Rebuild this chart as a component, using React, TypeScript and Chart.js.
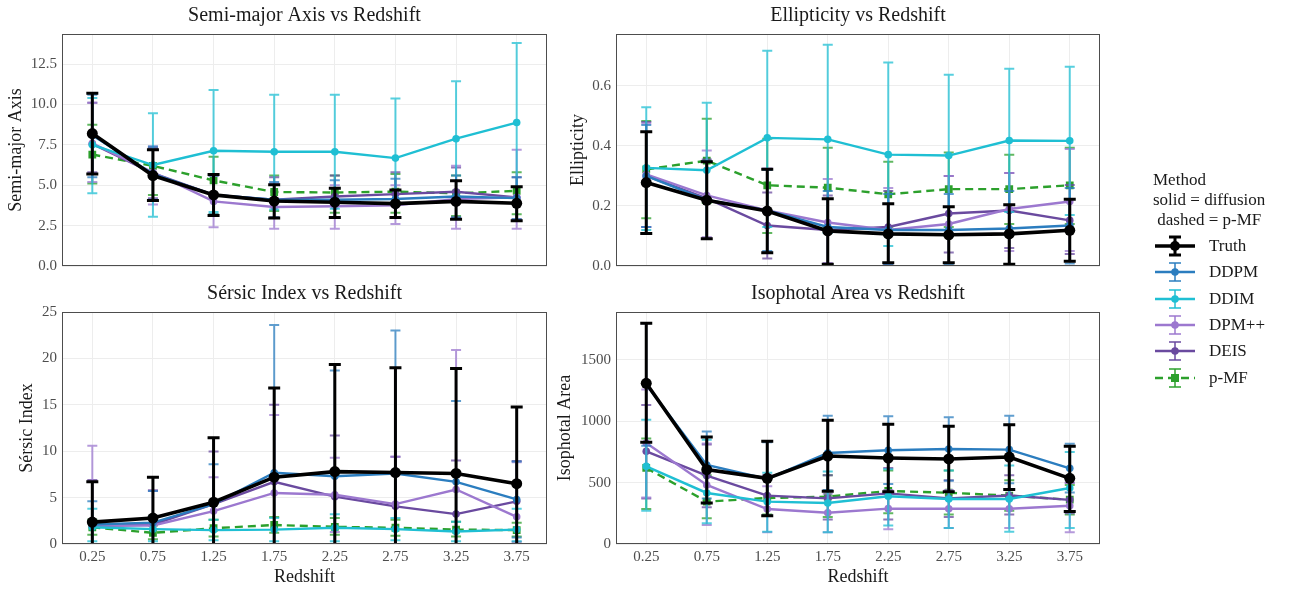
import React, { useEffect, useRef } from 'react';
import { Chart, registerables } from 'chart.js';

Chart.register(...registerables);
Chart.defaults.font.family = "'Liberation Serif', 'Times New Roman', serif";

// ---------------- data ----------------
const redshifts = ['0.25', '0.75', '1.25', '1.75', '2.25', '2.75', '3.25', '3.75'];
const methods = ['Truth', 'DDPM', 'DDIM', 'DPM++', 'DEIS', 'p-MF'];
const methodColors = ['#000000', '#2b7dbf', '#1fbfd3', '#9c78cf', '#6a4a9f', '#2ca02c'];

// y tick values per panel
const smaTicks = [0, 2.5, 5, 7.5, 10, 12.5];
const ellTicks = [0, 0.2, 0.4, 0.6];
const serTicks = [0, 5, 10, 15, 20, 25];
const isoTicks = [0, 500, 1000, 1500];

// each entry: [mean, lower, upper]
const smaTruth = [[8.2, 5.7, 10.7], [5.6, 4.05, 7.2], [4.4, 3.13, 5.67], [4.02, 2.97, 5.03], [3.95, 3.0, 4.82], [3.86, 3.0, 4.7], [4.0, 2.9, 5.28], [3.88, 2.8, 4.9]];
const smaDDPM = [[8.1, 5.5, 10.6], [5.7, 4.1, 7.4], [4.4, 3.2, 5.6], [4.1, 3.0, 5.2], [4.1, 3.0, 5.3], [4.15, 3.0, 5.4], [4.3, 3.0, 5.6], [4.2, 2.9, 5.5]];
const smaDDIM = [[7.5, 4.5, 10.4], [6.25, 3.05, 9.46], [7.13, 3.35, 10.9], [7.07, 3.5, 10.6], [7.07, 3.55, 10.6], [6.68, 3.0, 10.37], [7.88, 4.3, 11.44], [8.88, 3.9, 13.8]];
const smaDPMpp = [[7.6, 5.2, 10.1], [5.8, 3.8, 7.4], [4.0, 2.4, 5.6], [3.65, 2.3, 5.1], [3.7, 2.3, 5.0], [3.75, 2.6, 5.0], [4.15, 2.3, 6.2], [4.25, 2.3, 7.2]];
const smaDEIS = [[7.55, 5.8, 10.1], [5.75, 4.2, 7.3], [4.4, 3.1, 5.6], [4.1, 3.0, 5.5], [4.3, 3.0, 5.6], [4.45, 3.0, 5.8], [4.6, 3.0, 6.1], [4.25, 2.9, 5.5]];
const smaPMF = [[6.9, 5.1, 8.74], [6.2, 4.4, 7.3], [5.3, 3.2, 6.76], [4.58, 3.4, 5.6], [4.55, 3.3, 5.6], [4.6, 3.3, 5.7], [4.5, 3.1, 5.6], [4.65, 3.2, 5.8]];

const ellTruth = [[0.278, 0.108, 0.447], [0.219, 0.091, 0.347], [0.183, 0.044, 0.322], [0.117, 0.006, 0.224], [0.107, 0.011, 0.207], [0.104, 0.011, 0.197], [0.107, 0.006, 0.204], [0.119, 0.016, 0.222]];
const ellDDPM = [[0.3, 0.13, 0.47], [0.22, 0.09, 0.35], [0.185, 0.05, 0.32], [0.13, 0.005, 0.25], [0.12, 0.005, 0.24], [0.12, 0.005, 0.24], [0.125, 0.005, 0.25], [0.135, 0.008, 0.26]];
const ellDDIM = [[0.327, 0.12, 0.529], [0.319, 0.09, 0.544], [0.427, 0.13, 0.717], [0.422, 0.11, 0.737], [0.371, 0.067, 0.678], [0.368, 0.1, 0.637], [0.418, 0.18, 0.657], [0.417, 0.17, 0.664]];
const ellDPMpp = [[0.305, 0.13, 0.475], [0.235, 0.095, 0.385], [0.185, 0.045, 0.325], [0.145, 0.01, 0.29], [0.12, 0.005, 0.26], [0.14, 0.01, 0.3], [0.19, 0.05, 0.31], [0.215, 0.05, 0.39]];
const ellDEIS = [[0.3, 0.13, 0.48], [0.225, 0.095, 0.355], [0.135, 0.025, 0.245], [0.12, 0.005, 0.235], [0.13, 0.01, 0.25], [0.175, 0.045, 0.3], [0.185, 0.06, 0.31], [0.152, 0.04, 0.27]];
const ellPMF = [[0.322, 0.159, 0.483], [0.351, 0.21, 0.491], [0.269, 0.11, 0.424], [0.261, 0.13, 0.394], [0.239, 0.13, 0.347], [0.256, 0.13, 0.378], [0.256, 0.14, 0.371], [0.269, 0.14, 0.394]];

const serTruth = [[2.36, -2.0, 6.7], [2.8, -2.0, 7.2], [4.5, -2.4, 11.45], [7.2, -2.4, 16.8], [7.8, -3.7, 19.35], [7.7, -3.6, 19.0], [7.6, -3.7, 18.9], [6.5, -1.8, 14.75]];
const serDDPM = [[2.1, -0.4, 4.6], [2.3, -1.0, 5.7], [4.3, 0.0, 8.6], [7.68, -8.0, 23.6], [7.3, -4.0, 18.7], [7.6, -7.7, 23.0], [6.7, -2.0, 15.4], [4.8, 0.7, 8.9]];
const serDDIM = [[1.8, 0.3, 3.8], [1.6, 0.3, 3.0], [1.5, 0.4, 2.6], [1.55, 0.3, 2.8], [1.75, 0.3, 3.2], [1.6, 0.4, 2.8], [1.35, 0.3, 2.4], [1.55, 0.3, 3.8]];
const serDPMpp = [[2.0, -6.6, 10.6], [2.0, -1.7, 5.7], [3.55, -0.1, 7.2], [5.5, -2.9, 13.9], [5.3, 1.3, 9.3], [4.3, -0.8, 9.4], [5.87, -9.2, 20.9], [2.93, -2.9, 8.8]];
const serDEIS = [[1.9, -3.1, 6.9], [2.1, -1.6, 5.8], [4.3, -1.4, 9.96], [6.7, -1.6, 15.0], [5.1, -1.5, 11.7], [4.06, -1.3, 9.4], [3.22, -2.6, 9.0], [4.6, 0.25, 8.95]];
const serPMF = [[1.8, 1.0, 2.6], [1.2, 0.5, 2.0], [1.7, 0.8, 2.6], [2.05, 1.2, 2.9], [1.85, 1.0, 2.8], [1.75, 0.9, 2.6], [1.55, 0.8, 2.4], [1.5, 0.8, 2.3]];

const isoTruth = [[1310, 830, 1800], [606, 334, 872], [535, 231, 837], [717, 430, 1008], [701, 425, 976], [693, 425, 959], [709, 445, 973], [535, 265, 796]];
const isoDDPM = [[1300, 800, 1800], [644, 370, 916], [530, 230, 830], [742, 440, 1046], [764, 490, 1041], [774, 515, 1033], [769, 495, 1046], [617, 420, 818]];
const isoDDIM = [[633, 272, 1013], [416, 170, 850], [345, 100, 580], [334, 95, 590], [389, 150, 610], [367, 130, 600], [367, 100, 640], [456, 130, 750]];
const isoDPMpp = [[823, 380, 1260], [481, 155, 820], [285, 95, 470], [255, 95, 410], [288, 120, 440], [287, 130, 440], [287, 130, 440], [312, 95, 500]];
const isoDEIS = [[755, 370, 1133], [557, 300, 810], [394, 230, 560], [372, 200, 560], [413, 200, 620], [372, 220, 520], [395, 240, 560], [360, 250, 500]];
const isoPMF = [[620, 285, 860], [345, 210, 560], [375, 240, 540], [386, 220, 560], [432, 250, 600], [418, 240, 600], [394, 270, 520], [361, 240, 480]];

// ---------------- helpers ----------------
function hexA(hex: string, a: number) {
  const n = parseInt(hex.slice(1), 16);
  return `rgba(${(n >> 16) & 255},${(n >> 8) & 255},${n & 255},${a})`;
}

const errorBarPlugin = {
  id: 'errbars',
  beforeDatasetDraw(chart: any, args: any) {
    const ds = chart.data.datasets[args.index];
    if (!ds.errLo) return;
    const ys = chart.scales.y;
    const { ctx, chartArea: a } = chart;
    ctx.save();
    ctx.beginPath();
    ctx.rect(a.left, a.top, a.right - a.left, a.bottom - a.top);
    ctx.clip();
    ctx.strokeStyle = ds.errColor;
    ctx.lineWidth = ds.errWidth;
    ctx.lineCap = 'butt';
    args.meta.data.forEach((pt: any, i: number) => {
      const x = pt.x;
      const y1 = ys.getPixelForValue(ds.errLo[i]);
      const y2 = ys.getPixelForValue(ds.errHi[i]);
      const c = ds.errCap;
      ctx.beginPath();
      ctx.moveTo(x, y1);
      ctx.lineTo(x, y2);
      ctx.moveTo(x - c, y1);
      ctx.lineTo(x + c, y1);
      ctx.moveTo(x - c, y2);
      ctx.lineTo(x + c, y2);
      ctx.stroke();
    });
    ctx.restore();
  },
};

const panelPlugin = {
  id: 'panelDeco',
  afterDraw(chart: any, _args: any, opts: any) {
    const { ctx, chartArea: a } = chart;
    ctx.save();
    ctx.strokeStyle = '#4d4d4d';
    ctx.lineWidth = 1;
    ctx.strokeRect(Math.round(a.left) + 0.5, Math.round(a.top) + 0.5, Math.round(a.right - a.left) - 1, Math.round(a.bottom - a.top) - 1);
    ctx.fillStyle = '#1a1a1a';
    ctx.font = "20px 'Liberation Serif', serif";
    ctx.textAlign = 'center';
    ctx.textBaseline = 'middle';
    ctx.fillText(opts.text, (a.left + a.right) / 2, a.top - 18);
    ctx.restore();
  },
};

type PanelCfg = {
  title: string;
  yLabel: string;
  series: number[][][];
  ticks: number[];
  yMax: number;
  fmt: (v: number) => string;
  x: number;
  y: number;
  w: number;
  h: number;
  yw: number;
  xh: number;
  padTop: number;
  padRight: number;
  yTitlePad: number;
  showX: boolean;
};

const fmt1 = (v: number) => v.toFixed(1);
const fmt0 = (v: number) => String(Math.round(v));

const panels: PanelCfg[] = [
  { title: 'Semi-major Axis vs Redshift', yLabel: 'Semi-major Axis', series: [smaTruth, smaDDPM, smaDDIM, smaDPMpp, smaDEIS, smaPMF], ticks: smaTicks, yMax: 14.36, fmt: fmt1, x: 0, y: 0, w: 560, h: 290, yw: 62, xh: 24, padTop: 34, padRight: 13, yTitlePad: 5, showX: false },
  { title: 'Ellipticity vs Redshift', yLabel: 'Ellipticity', series: [ellTruth, ellDDPM, ellDDIM, ellDPMpp, ellDEIS, ellPMF], ticks: ellTicks, yMax: 0.773, fmt: fmt1, x: 545, y: 0, w: 575, h: 290, yw: 71, xh: 24, padTop: 34, padRight: 20, yTitlePad: 22, showX: false },
  { title: 'Sérsic Index vs Redshift', yLabel: 'Sérsic Index', series: [serTruth, serDDPM, serDDIM, serDPMpp, serDEIS, serPMF], ticks: serTicks, yMax: 25, fmt: fmt0, x: 0, y: 268, w: 560, h: 321, yw: 62, xh: 45, padTop: 44, padRight: 13, yTitlePad: 16, showX: true },
  { title: 'Isophotal Area vs Redshift', yLabel: 'Isophotal Area', series: [isoTruth, isoDDPM, isoDDIM, isoDPMpp, isoDEIS, isoPMF], ticks: isoTicks, yMax: 1891, fmt: fmt0, x: 545, y: 268, w: 575, h: 321, yw: 71, xh: 45, padTop: 44, padRight: 20, yTitlePad: 9, showX: true },
];

function Panel({ cfg }: { cfg: PanelCfg }) {
  const ref = useRef<HTMLCanvasElement>(null);
  useEffect(() => {
    const datasets = cfg.series.map((s, k) => {
      const col = methodColors[k];
      const truth = k === 0;
      const pmf = k === 5;
      return {
        label: methods[k],
        data: s.map((t) => t[0]),
        errLo: s.map((t) => t[1]),
        errHi: s.map((t) => t[2]),
        errColor: truth ? '#000000' : hexA(col, 0.75),
        errWidth: truth ? 3 : 2,
        errCap: truth ? 6 : 5,
        borderColor: col,
        backgroundColor: col,
        borderWidth: truth ? 3.6 : 2.4,
        borderDash: pmf ? [8, 5] : [],
        pointStyle: pmf ? 'rect' : 'circle',
        pointRadius: truth ? 5.5 : pmf ? 5.5 : 3.8,
        pointBackgroundColor: col,
        pointBorderWidth: 0,
        tension: 0,
      };
    });
    const chart = new Chart(ref.current as HTMLCanvasElement, {
      type: 'line',
      data: { labels: redshifts, datasets: datasets as any },
      plugins: [errorBarPlugin, panelPlugin],
      options: {
        animation: false,
        responsive: false,
        devicePixelRatio: 1,
        layout: { padding: { top: cfg.padTop, right: cfg.padRight, left: 0, bottom: 0 } },
        plugins: {
          legend: { display: false },
          tooltip: { enabled: false },
          panelDeco: { text: cfg.title },
        } as any,
        scales: {
          x: {
            type: 'category',
            offset: true,
            grid: { color: '#ededed', lineWidth: 1, drawTicks: false, offset: false },
            border: { display: false },
            ticks: { display: cfg.showX, color: '#4d4d4d', font: { size: 15 }, padding: 4, maxRotation: 0, autoSkip: false },
            title: { display: cfg.showX, text: 'Redshift', color: '#1a1a1a', font: { size: 18 }, padding: { top: 0, bottom: 1 } },
            afterFit: (s: any) => {
              s.height = cfg.xh;
            },
          },
          y: {
            min: 0,
            max: cfg.yMax,
            grid: { color: '#ededed', lineWidth: 1, drawTicks: false },
            border: { display: false },
            afterBuildTicks: (s: any) => {
              s.ticks = cfg.ticks.map((v) => ({ value: v }));
            },
            ticks: {
              color: '#4d4d4d',
              font: { size: 15 },
              padding: 5,
              callback: (v: any) => cfg.fmt(Number(v)),
            },
            title: { display: true, text: cfg.yLabel, color: '#1a1a1a', font: { size: 18 }, padding: { top: cfg.yTitlePad, bottom: 0 } },
            afterFit: (s: any) => {
              s.width = cfg.yw;
            },
          },
        } as any,
      },
    });
    return () => chart.destroy();
  }, [cfg]);
  return (
    <canvas
      ref={ref}
      width={cfg.w}
      height={cfg.h}
      style={{ position: 'absolute', left: cfg.x, top: cfg.y, width: cfg.w, height: cfg.h }}
    />
  );
}

const legendTitle = ['Method', 'solid = diffusion', ' dashed = p-MF'];

function LegendKey({ k }: { k: number }) {
  const col = methodColors[k];
  const truth = k === 0;
  const pmf = k === 5;
  const ec = truth ? '#000' : hexA(col, 0.75);
  return (
    <svg width={40} height={26} style={{ position: 'absolute', left: 0, top: 0 }}>
      <line x1={0} y1={13} x2={40} y2={13} stroke={col} strokeWidth={truth ? 3.6 : 2.4} strokeDasharray={pmf ? '8 5' : undefined} />
      <line x1={20} y1={4} x2={20} y2={22} stroke={ec} strokeWidth={truth ? 3 : 2} />
      <line x1={14} y1={4} x2={26} y2={4} stroke={ec} strokeWidth={truth ? 3 : 2} />
      <line x1={14} y1={22} x2={26} y2={22} stroke={ec} strokeWidth={truth ? 3 : 2} />
      {pmf ? <rect x={16} y={9} width={8} height={8} fill={col} /> : <circle cx={20} cy={13} r={truth ? 5 : 3.8} fill={col} />}
    </svg>
  );
}

function Legend() {
  const font = "'Liberation Serif', 'Times New Roman', serif";
  return (
    <div style={{ position: 'absolute', left: 0, top: 0, width: 1293, height: 589, pointerEvents: 'none' }}>
      {legendTitle.map((t, i) => (
        <div
          key={t}
          style={{ position: 'absolute', left: 1153, top: 180 + i * 20 - 10, height: 20, lineHeight: '20px', fontFamily: font, fontSize: 17, color: '#1a1a1a', whiteSpace: 'pre' }}
        >
          {t}
        </div>
      ))}
      {methods.map((m, k) => (
        <div key={m} style={{ position: 'absolute', left: 1155, top: 246 + k * 26.3 - 13, height: 26, width: 140 }}>
          <LegendKey k={k} />
          <div style={{ position: 'absolute', left: 54, top: 0, lineHeight: '26px', fontFamily: font, fontSize: 17, color: '#1a1a1a', whiteSpace: 'pre' }}>{m}</div>
        </div>
      ))}
    </div>
  );
}

export default function App() {
  return (
    <div style={{ position: 'absolute', left: 0, top: 0, width: 1293, height: 589, background: '#ffffff', overflow: 'hidden' }}>
      {panels.map((p) => (
        <Panel key={p.title} cfg={p} />
      ))}
      <Legend />
    </div>
  );
}
